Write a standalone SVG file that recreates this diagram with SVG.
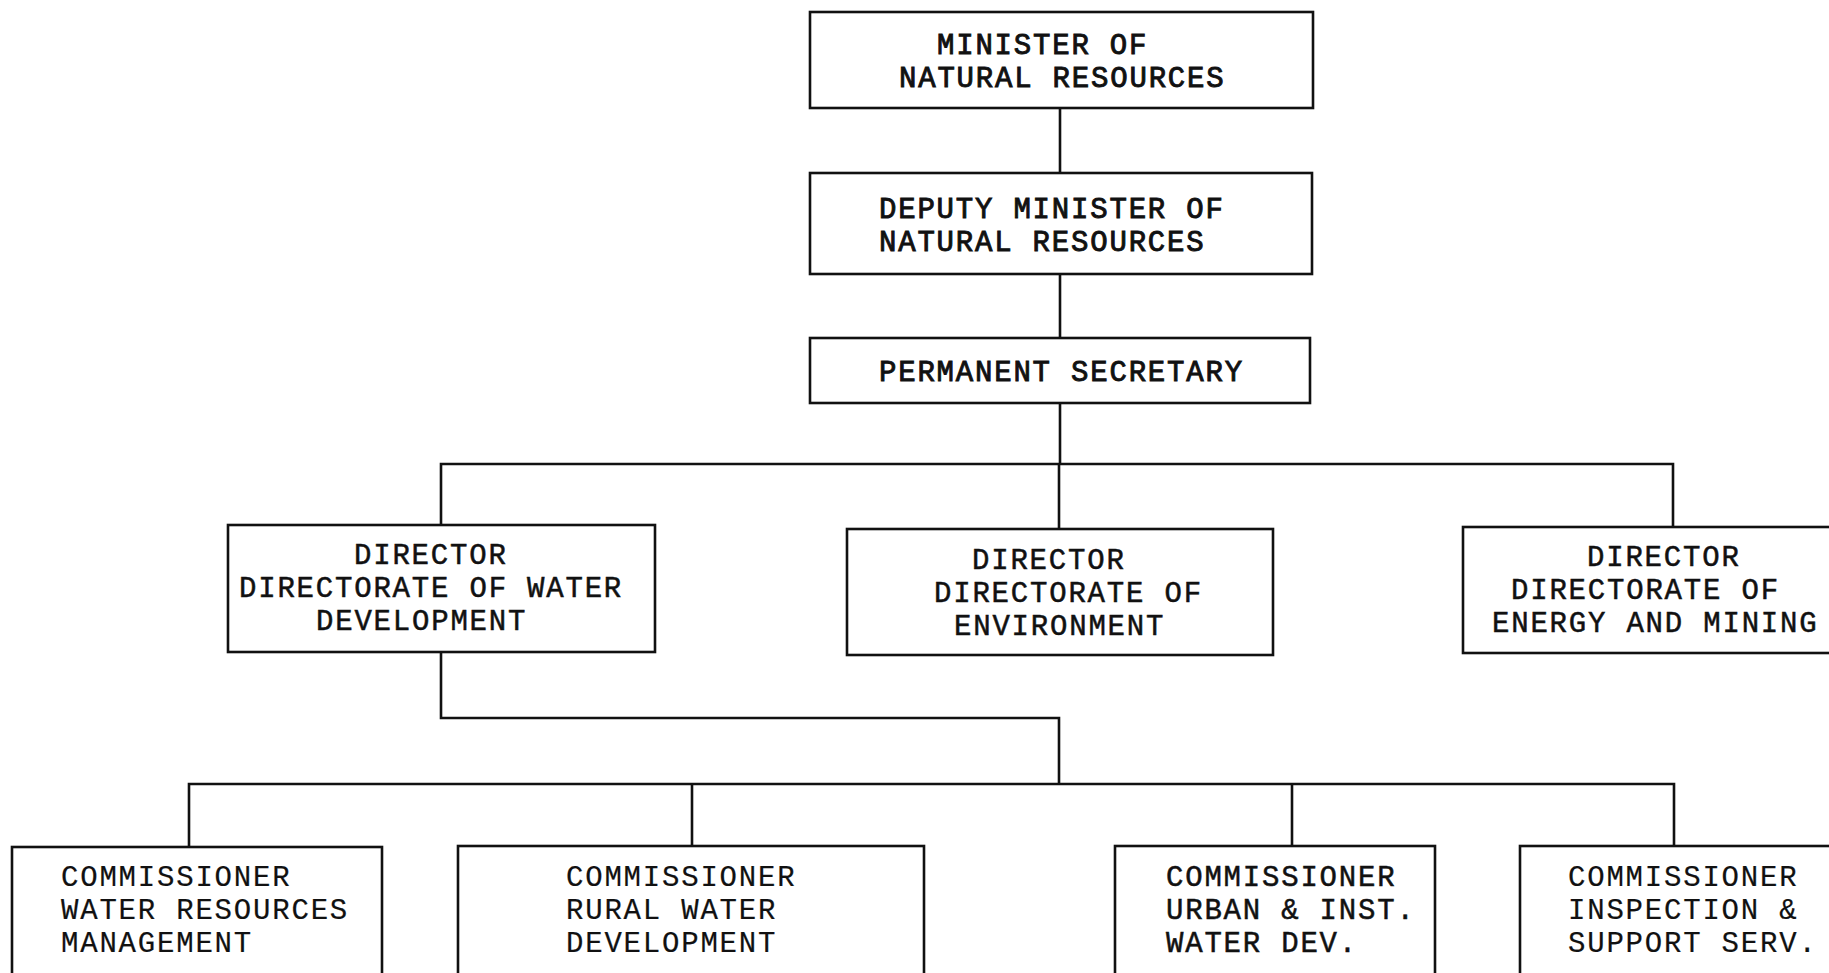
<svg xmlns="http://www.w3.org/2000/svg" width="1829" height="973" viewBox="0 0 1829 973">
  <style>
    .bg { fill: #ffffff; }
    .box { fill: #ffffff; stroke: #111111; stroke-width: 2.6; }
    .wire { fill: none; stroke: #111111; stroke-width: 2.6; stroke-linejoin: miter; }
    text { font-family: "Courier New", "Nimbus Mono PS", "FreeMono", "Liberation Mono", monospace; font-size: 29px; letter-spacing: 1.8px; fill: #111111; }
    .heavy { stroke: #111111; stroke-width: 0.9; }
    .mid { stroke: #111111; stroke-width: 0.5; }
    .light { stroke: #111111; stroke-width: 0.2; }
  </style>

  <rect class="bg" x="0" y="0" width="1829" height="973"/>

  <!-- reporting lines -->
  <g id="connectors">
    <path class="wire" d="M1060 108 V173"/>
    <path class="wire" d="M1060 274 V338"/>
    <path class="wire" d="M1060 403 V464"/>
    <path class="wire" d="M441 525 V464 H1673 V527"/>
    <path class="wire" d="M1059 464 V529"/>
    <path class="wire" d="M441 652 V718 H1059 V784"/>
    <path class="wire" d="M189 846 V784 H1674 V846"/>
    <path class="wire" d="M692 784 V846"/>
    <path class="wire" d="M1292 784 V846"/>
  </g>

  <g id="minister">
    <rect class="box" x="810" y="12" width="503" height="96"/>
    <text class="heavy" x="937" y="54">MINISTER OF</text>
    <text class="heavy" x="899" y="87">NATURAL RESOURCES</text>
  </g>

  <g id="deputy-minister">
    <rect class="box" x="810" y="173" width="502" height="101"/>
    <text class="heavy" x="879" y="218">DEPUTY MINISTER OF</text>
    <text class="heavy" x="879" y="251">NATURAL RESOURCES</text>
  </g>

  <g id="permanent-secretary">
    <rect class="box" x="810" y="338" width="500" height="65"/>
    <text class="heavy" x="879" y="381">PERMANENT SECRETARY</text>
  </g>

  <g id="director-water">
    <rect class="box" x="228" y="525" width="427" height="127"/>
    <text class="mid" x="354" y="564">DIRECTOR</text>
    <text class="mid" x="239" y="597">DIRECTORATE OF WATER</text>
    <text class="mid" x="316" y="630">DEVELOPMENT</text>
  </g>

  <g id="director-environment">
    <rect class="box" x="847" y="529" width="426" height="126"/>
    <text class="mid" x="972" y="569">DIRECTOR</text>
    <text class="mid" x="934" y="602">DIRECTORATE OF</text>
    <text class="mid" x="954" y="635">ENVIRONMENT</text>
  </g>

  <g id="director-energy">
    <rect class="box" x="1463" y="527" width="380" height="126"/>
    <text class="mid" x="1587" y="566">DIRECTOR</text>
    <text class="mid" x="1511" y="599">DIRECTORATE OF</text>
    <text class="mid" x="1492" y="632">ENERGY AND MINING</text>
  </g>

  <g id="commissioner-water-resources">
    <rect class="box" x="12" y="847" width="370" height="140"/>
    <text class="light" x="61" y="886">COMMISSIONER</text>
    <text class="light" x="61" y="919">WATER RESOURCES</text>
    <text class="light" x="61" y="952">MANAGEMENT</text>
  </g>

  <g id="commissioner-rural-water">
    <rect class="box" x="458" y="846" width="466" height="140"/>
    <text class="light" x="566" y="886">COMMISSIONER</text>
    <text class="light" x="566" y="919">RURAL WATER</text>
    <text class="light" x="566" y="952">DEVELOPMENT</text>
  </g>

  <g id="commissioner-urban-water">
    <rect class="box" x="1115" y="846" width="320" height="140"/>
    <text class="mid" x="1166" y="886">COMMISSIONER</text>
    <text class="mid" x="1166" y="919">URBAN &amp; INST.</text>
    <text class="mid" x="1166" y="952">WATER DEV.</text>
  </g>

  <g id="commissioner-inspection">
    <rect class="box" x="1520" y="846" width="330" height="140"/>
    <text class="light" x="1568" y="886">COMMISSIONER</text>
    <text class="light" x="1568" y="919">INSPECTION &amp;</text>
    <text class="light" x="1568" y="952">SUPPORT SERV.</text>
  </g>
</svg>
